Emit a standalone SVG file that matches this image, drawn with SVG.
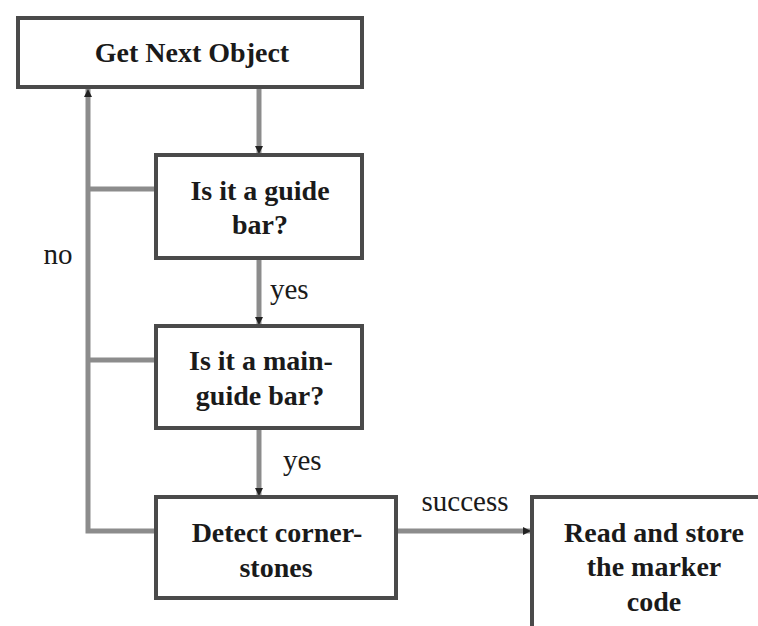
<svg xmlns="http://www.w3.org/2000/svg" width="758" height="626" viewBox="0 0 758 626">
<style>
.box{fill:#fff;stroke:#4a4a4a;stroke-width:4}
.t{font-family:"Liberation Serif","Times New Roman",serif;font-size:28px;font-weight:bold;fill:#1a1a1a;text-anchor:middle}
.l{font-family:"Liberation Serif","Times New Roman",serif;font-size:29px;fill:#1a1a1a}
.c{fill:none;stroke:#8c8c8c;stroke-width:5}
</style>
<defs>
<marker id="ah" viewBox="0 0 10 10" refX="10" refY="5" markerWidth="1.6" markerHeight="1.8" orient="auto" markerUnits="strokeWidth">
<path d="M0,0 L10,5 L0,10 z" fill="#222"/>
</marker>
</defs>
<rect width="758" height="626" fill="#fff"/>
<g id="connectors">
<path class="c" d="M259,88 V154" marker-end="url(#ah)"/>
<path class="c" d="M259,258 V325" marker-end="url(#ah)"/>
<path class="c" d="M259,428 V496" marker-end="url(#ah)"/>
<path class="c" d="M156,531 H88 V89" marker-end="url(#ah)"/>
<path class="c" d="M156,189 H88"/>
<path class="c" d="M156,360 H88"/>
<path class="c" d="M396,531 H531" marker-end="url(#ah)"/>
<text class="l" x="58" y="264" text-anchor="middle">no</text>
<text class="l" x="270" y="299">yes</text>
<text class="l" x="283" y="470">yes</text>
<text class="l" x="465" y="511" text-anchor="middle">success</text>
</g>
<g id="n1"><rect class="box" x="18" y="18" width="344" height="69"/><text class="t" x="192" y="62">Get Next Object</text></g>
<g id="n2"><rect class="box" x="156" y="155" width="206" height="103"/><text class="t" x="260" y="200">Is it a guide</text><text class="t" x="260" y="234">bar?</text></g>
<g id="n3"><rect class="box" x="156" y="326" width="206" height="102"/><text class="t" x="261" y="370">Is it a main-</text><text class="t" x="260" y="405">guide bar?</text></g>
<g id="n4"><rect class="box" x="156" y="497" width="240" height="101"/><text class="t" x="277" y="542">Detect corner-</text><text class="t" x="276" y="577">stones</text></g>
<g id="n5"><rect class="box" x="532" y="497" width="260" height="160"/><text class="t" x="654" y="542">Read and store</text><text class="t" x="654" y="576">the marker</text><text class="t" x="654" y="611">code</text></g>
</svg>
